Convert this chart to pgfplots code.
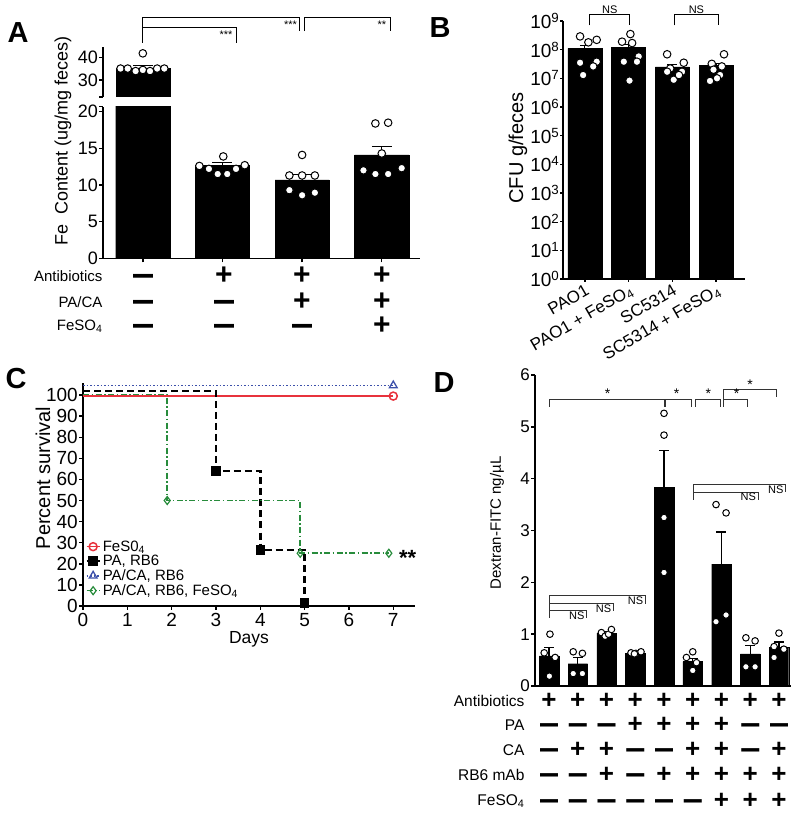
\documentclass[border=0pt]{standalone}
\usepackage{pgfplots}
\pgfplotsset{compat=1.18}
\usepackage{fontspec}
\setmainfont{Liberation Sans}
\usepackage{graphicx}
\definecolor{cred}{RGB}{232,50,60}
\definecolor{cblue}{RGB}{60,80,170}
\definecolor{cgreen}{RGB}{40,140,60}
\newcommand\fs[1]{\fontsize{#1}{#1}\selectfont}
\newcommand\plus[1][30]{{\fs{#1}\bfseries +}}
\newcommand\minus[1][20]{{\fs{#1}\bfseries\raisebox{-0.54em}[0pt][0pt]{\scalebox{1}[1.9]{—}}}}
\pgfplotsset{
  base/.style={scale only axis, axis x line*=bottom, axis y line*=left,
    axis line style={-, line width=1.4pt}, tick align=outside,
    tick style={black, line width=1.4pt}, major tick length=5pt,
    /pgf/number format/assume math mode=true,
    tick label style={font=\fs{18}}, clip mode=individual},
  bars/.style={ybar, bar shift=0pt, fill=black, draw=black,
    error bars/y dir=plus, error bars/y explicit,
    error bars/error bar style={line width=1.2pt, black},
    error bars/error mark options={rotate=90, mark size=#1, line width=1.2pt, black}},
  dots/.style={only marks, mark=*, mark size=#1,
    mark options={fill=white, draw=black, line width=1pt}},
}
\begin{document}
\begin{tikzpicture}
\useasboundingbox (0,0) rectangle (797pt,813pt);
% ================= Panel A =================
% lower segment
\begin{axis}[base, at={(103pt,554.7pt)}, anchor=south west, width=317pt, height=151.7pt,
  xmin=-0.5, xmax=3.48, ymin=0, ymax=20.7, ytick={0,5,10,15,20},
  extra y ticks={20.7}, extra y tick labels={},
  xtick={0,1,2,3}, xticklabels={}, major tick length=4pt,
  y tick label style={inner sep=1pt}]
\addplot[bars=10pt, bar width=0.68] coordinates {(0,35.2) +- (0,1.2) (1,12.7) +- (0,0.35) (2,10.7) +- (0,0.7) (3,14.1) +- (0,1.1)};
\addplot[dots=3.8pt] coordinates {
 (0.71,12.6) (0.83,12.2) (0.94,11.5) (1.06,11.5) (1.17,12.2) (1.28,12.7) (1.01,13.9)
 (2,14.1) (1.84,11.3) (2,11.3) (2.16,11.3) (1.84,9.3) (2,8.6) (2.16,8.95)
 (2.92,18.4) (3.08,18.5) (3,14.3) (2.77,12.0) (2.92,11.5) (3.08,11.5) (3.25,12.3)};
\end{axis}
% upper segment
\begin{axis}[base, axis x line=none, at={(103pt,716pt)}, anchor=south west, width=317pt, height=50pt,
  xmin=-0.5, xmax=3.48, ymin=22.5, ymax=44.5, ytick={30,40},
  extra y ticks={22.5}, extra y tick labels={}, major tick length=4pt,
  y tick label style={inner sep=1pt}]
\addplot[bars=10pt, bar width=0.68] coordinates {(0,35.2) +- (0,1.2)};
\addplot[dots=3.8pt] coordinates {(0,41.7) (-0.28,35.0) (-0.19,35.0) (-0.09,33.9) (0,34.4) (0.09,33.9) (0.18,35.0) (0.27,35.0)};
\draw[line width=1pt] (axis cs:0,46.3) -- (axis cs:0,57.3) -- (axis cs:1.97,57.3) -- (axis cs:1.97,51.5);
\draw[line width=1pt] (axis cs:2.03,51.5) -- (axis cs:2.03,57.3) -- (axis cs:3.11,57.3) -- (axis cs:3.11,51.5);
\draw[line width=1pt] (axis cs:0,52.9) -- (axis cs:1.18,52.9) -- (axis cs:1.18,46.4);
\node[anchor=east, font=\fs{11}, inner sep=1pt] at (axis cs:1.95,54.2) {***};
\node[anchor=east, font=\fs{11}, inner sep=1pt] at (axis cs:1.14,49.9) {***};
\node[anchor=east, font=\fs{11}, inner sep=1pt] at (axis cs:3.07,54.2) {**};
\end{axis}
% ================= Panel B =================
\begin{axis}[base, ymode=log, at={(563pt,534pt)}, anchor=south west, width=182pt, height=258pt,
  xmin=-0.5, xmax=3.66, ymin=1, ymax=1e9, yminorticks=false, major tick length=3pt,
  ytick={1,10,100,1000,1e4,1e5,1e6,1e7,1e8,1e9},
  yticklabels={10\textsuperscript{0},10\textsuperscript{1},10\textsuperscript{2},10\textsuperscript{3},10\textsuperscript{4},10\textsuperscript{5},10\textsuperscript{6},10\textsuperscript{7},10\textsuperscript{8},10\textsuperscript{9}},
  y tick label style={font=\fs{19}, inner sep=0.5pt},
  xtick={0,1,2,3},
  xticklabels={PAO1, PAO1 + FeSO\textsubscript{4}, SC5314, SC5314 + FeSO\textsubscript{4}},
  x tick label style={rotate=30, anchor=north east, font=\fs{17}, inner sep=1pt}]
\addplot[bars=5pt, bar width=0.78] coordinates {(0,1.1e8) +- (0,3e7) (1,1.2e8) +- (0,3e7) (2,2.5e7) +- (0,5e6) (3,2.8e7) +- (0,5e6)};
\addplot[dots=3.8pt] coordinates {
 (-0.11,2.9e8) (0.08,1.8e8) (0.27,2.2e8) (-0.11,3.5e7) (0.27,3.8e7) (0.19,2.6e7) (-0.04,1.3e7)
 (1.04,3.5e8) (0.85,1.9e8) (1.08,1.7e8) (1.23,5.8e7) (0.89,3.8e7) (1.19,3.8e7) (1.02,8.3e6)
 (1.88,6.9e7) (2.26,3.5e7) (1.95,2.2e7) (2.22,1.7e7) (1.88,1.7e7) (2.03,8.9e6) (2.15,1.3e7)
 (3.18,6.9e7) (2.9,3.2e7) (3.13,2.6e7) (2.94,2.0e7) (3.09,1.3e7) (2.86,8.1e6) (3.02,1.0e7)};
\draw[line width=1pt] (axis cs:0.11,7e8) -- (axis cs:0.11,1.7e9) -- (axis cs:1.03,1.7e9) -- (axis cs:1.03,7e8);
\draw[line width=1pt] (axis cs:2.04,7e8) -- (axis cs:2.04,1.7e9) -- (axis cs:3.05,1.7e9) -- (axis cs:3.05,7e8);
\node[anchor=south, font=\fs{11}, inner sep=1pt] at (axis cs:0.57,1.7e9) {NS};
\node[anchor=south, font=\fs{11}, inner sep=1pt] at (axis cs:2.55,1.7e9) {NS};
\end{axis}
% ================= Panel C =================
\begin{axis}[base, at={(83pt,207pt)}, anchor=south west, width=332pt, height=223pt,
  xmin=0, xmax=7.49, ymin=0, ymax=105.7, xtick={0,...,7}, ytick={0,10,...,100},
  tick label style={font=\fs{19}}, y tick label style={inner sep=1pt}, major tick length=4pt,
  legend style={draw=none, fill=none, at={(axis cs:0.05,32)}, anchor=north west,
    font=\fs{15}, row sep=-1.5pt, inner sep=0pt},
  legend cell align=left,
  legend image code/.code={\draw[#1, mark indices={2}] plot coordinates {(0pt,0pt) (6.5pt,0pt) (13pt,0pt)};}]
\addplot[cred, line width=1.5pt, const plot, mark=o, mark size=4pt, mark indices={2}] coordinates {(0,99.5) (7,99.5)};
\addlegendentry{FeS0\textsubscript{4}}
\addplot[black, line width=2.4pt, dash pattern=on 7pt off 4pt, const plot, mark=square*, mark size=3.5pt, mark indices={2,3,4}, mark options={solid}] coordinates {(0,102) (3,64) (4,26.5) (5,1.5)};
\addlegendentry{PA, RB6}
\addplot[cblue, line width=1.8pt, dash pattern=on 1.5pt off 2pt, const plot, mark=triangle, mark size=4.5pt, mark indices={2}, mark options={solid, line width=1.3pt}] coordinates {(0,104.5) (7,104.5)};
\addlegendentry{PA/CA, RB6}
\addplot[cgreen, line width=1.6pt, dash pattern=on 6pt off 2.5pt on 1.5pt off 2.5pt, const plot, mark=diamond, mark size=4pt, mark indices={2,3,4}, mark options={solid, line width=1.2pt}] coordinates {(0,100.3) (1.9,50) (4.9,25) (6.9,25)};
\addlegendentry{PA/CA, RB6, FeSO\textsubscript{4}}
\node[anchor=west, font=\fs{22}\bfseries] at (axis cs:7.05,23) {**};
\end{axis}
% ================= Panel D =================
\begin{axis}[base, at={(535pt,127pt)}, anchor=south west, width=256pt, height=311pt,
  xmin=-0.49, xmax=8.42, ymin=0, ymax=6, ytick={0,...,6}, xtick=\empty,
  y tick label style={font=\fs{17}, inner sep=1pt}, major tick length=4pt]
\addplot[bars=5pt, bar width=0.68] coordinates {(0,0.58) +- (0,0.17) (1,0.43) +- (0,0.12) (2,1.02) +- (0,0.03) (3,0.63) +- (0,0.03) (4,3.83) +- (0,0.72) (5,0.47) +- (0,0.06) (6,2.35) +- (0,0.62) (7,0.62) +- (0,0.16) (8,0.75) +- (0,0.10)};
\addplot[dots=3.3pt] coordinates {
 (0.03,1.0) (-0.17,0.64) (0.21,0.55) (0.01,0.19)
 (0.84,0.66) (1.16,0.63) (0.84,0.24) (1.16,0.24)
 (1.82,1.03) (1.95,0.96) (2.07,1.0) (2.17,1.09)
 (2.85,0.64) (3.02,0.63) (3.2,0.66) (2.97,0.62)
 (4,5.26) (4,4.84) (4,3.25) (4,2.19)
 (5,0.66) (4.78,0.55) (5.13,0.45) (5,0.3)
 (5.81,3.5) (6.16,3.34) (5.81,1.24) (6.16,1.37)
 (6.85,0.93) (7.17,0.87) (6.85,0.37) (7.17,0.37)
 (8,1.02) (7.83,0.76) (8.17,0.71) (7.83,0.55)};
\begin{scope}[line width=0.9pt, black!80]
\draw (axis cs:0,5.39) -- (axis cs:0,5.53) -- (axis cs:4,5.53) -- (axis cs:4,5.39);
\draw (axis cs:4.06,5.39) -- (axis cs:4.06,5.53) -- (axis cs:4.96,5.53) -- (axis cs:4.96,5.39);
\draw (axis cs:5.08,5.39) -- (axis cs:5.08,5.53) -- (axis cs:5.95,5.53) -- (axis cs:5.95,5.39);
\draw (axis cs:6.06,5.39) -- (axis cs:6.06,5.72) -- (axis cs:7.90,5.72) -- (axis cs:7.90,5.58);
\draw (axis cs:6.06,5.53) -- (axis cs:6.91,5.53) -- (axis cs:6.91,5.39);
\draw (axis cs:5.02,3.59) -- (axis cs:5.02,3.88) -- (axis cs:8.24,3.88) -- (axis cs:8.24,3.75);
\draw (axis cs:5.02,3.73) -- (axis cs:7.28,3.73) -- (axis cs:7.28,3.59);
\draw (axis cs:0.03,1.32) -- (axis cs:0.03,1.74) -- (axis cs:3.36,1.74) -- (axis cs:3.36,1.59);
\draw (axis cs:0.03,1.59) -- (axis cs:2.24,1.59) -- (axis cs:2.24,1.45);
\draw (axis cs:0.03,1.45) -- (axis cs:1.31,1.45) -- (axis cs:1.31,1.32);
\end{scope}
\begin{scope}[font=\fs{14}, inner sep=0pt]
\node at (axis cs:2.04,5.63) {*};
\node at (axis cs:4.44,5.63) {*};
\node at (axis cs:5.54,5.63) {*};
\node at (axis cs:6.53,5.63) {*};
\node at (axis cs:7.0,5.82) {*};
\end{scope}
\begin{scope}[font=\fs{11}, inner sep=1pt]
\node[anchor=east] at (axis cs:8.2,3.79) {NS};
\node[anchor=east] at (axis cs:7.24,3.65) {NS};
\node[anchor=east] at (axis cs:3.32,1.64) {NS};
\node[anchor=east] at (axis cs:2.2,1.50) {NS};
\node[anchor=east] at (axis cs:1.27,1.36) {NS};
\end{scope}
\end{axis}
% ================= text (pixel coordinates) =================
\begin{scope}[shift={(0pt,813pt)}, x=1pt, y=-1pt]
\node[font=\fs{29}\bfseries] at (18,33) {A};
\node[font=\fs{29}\bfseries] at (440,28) {B};
\node[font=\fs{29}\bfseries] at (16,379) {C};
\node[font=\fs{29}\bfseries] at (444,383) {D};
% axis labels
\node[rotate=90, font=\fs{18}] at (63,141) {Fe\ \ Content (ug/mg feces)};
\node[rotate=90, font=\fs{20}] at (518,148) {CFU g/feces};
\node[rotate=90, font=\fs{20}] at (43,478) {Percent survival};
\node[font=\fs{17.5}] at (249,639) {Days};
\node[rotate=90, font=\fs{15}] at (497,523) {Dextran-FITC ng/µL};
% panel A table
\begin{scope}[font=\fs{15}]
\node[anchor=east] at (106,276) {Antibiotics};
\node[anchor=east] at (106,302) {PA/CA};
\node[anchor=east] at (106,326) {FeSO\textsubscript{4}};
\end{scope}
\begin{scope}[every node/.style={inner sep=0pt}]
\node at (143,276) {\minus}; \node at (224,276) {\plus}; \node at (302,276) {\plus}; \node at (382,276) {\plus};
\node at (143,302) {\minus}; \node at (224,302) {\minus}; \node at (302,302) {\plus}; \node at (382,302) {\plus};
\node at (143,326) {\minus}; \node at (224,326) {\minus}; \node at (302,326) {\minus}; \node at (382,326) {\plus};
\end{scope}
% panel D table
\begin{scope}[font=\fs{15.5}]
\node[anchor=east] at (528,701) {Antibiotics};
\node[anchor=east] at (528,725) {PA};
\node[anchor=east] at (528,750) {CA};
\node[anchor=east] at (528,775) {RB6 mAb};
\node[anchor=east] at (528,801) {FeSO\textsubscript{4}};
\end{scope}
\foreach \i/\a/\b/\c/\d/\e in {0/1/0/0/0/0, 1/1/0/1/0/0, 2/1/0/1/1/0, 3/1/1/0/0/0, 4/1/1/0/1/0, 5/1/1/1/1/0, 6/1/1/1/1/1, 7/1/0/0/1/1, 8/1/0/1/1/1}{
  \pgfmathsetmacro\xx{549+28.75*\i}
  \foreach \v/\yy in {\a/701,\b/725,\c/750,\d/775,\e/801}{
    \ifnum\v=1 \node[inner sep=0pt] at (\xx,\yy) {\plus[26]};\else \node[inner sep=0pt] at (\xx,\yy) {\minus[18]};\fi
  }
}
\end{scope}
\end{tikzpicture}
\end{document}
